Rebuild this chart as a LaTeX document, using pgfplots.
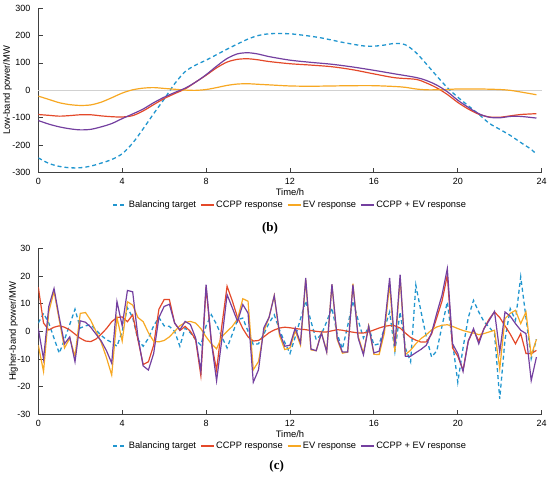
\documentclass[border=0pt]{standalone}
\usepackage{pgfplots}
\pgfplotsset{compat=1.18}
\usepackage{pgfplotstable}
\usepackage{fontspec}
\setmainfont{Liberation Sans}
\newfontfamily\capfont{Liberation Serif}
\definecolor{cTarget}{HTML}{2196CF}
\definecolor{cCCPP}{HTML}{E4492A}
\definecolor{cEV}{HTML}{F7A823}
\definecolor{cSum}{HTML}{7440A0}
\definecolor{cAxis}{HTML}{404040}

\pgfplotstableread{
t v
0 -246
0.5 -266
1 -277
1.5 -282
2 -282
2.5 -276
3 -265
3.5 -252
4 -231
4.5 -192
5 -140
5.5 -85
6 -32
6.5 24
7 68
7.5 92
8 110
8.5 130
9 150
9.5 169
10 187
10.5 200
11 206
11.5 207
12 206
12.5 202
13 197
13.5 191
14 183
14.5 175
15 168
15.5 162
16 161
16.5 165
17 171
17.5 166
18 138
18.5 96
19 52
19.5 10
20 -25
20.5 -56
21 -87
21.5 -120
22 -142
22.5 -164
23 -190
23.5 -215
23.75 -233
}\lowTarget

\pgfplotstableread{
t v
0 -88
0.5 -91
1 -94
1.5 -92
2 -89
2.5 -89
3 -93
3.5 -96
4 -97
4.5 -92
5 -75
5.5 -52
6 -30
6.5 -12
7 5
7.5 30
8 55
8.5 82
9 103
9.5 113
10 115
10.5 111
11 105
12 97
13 92
14 86
15 75
16 60
17 46
18 40
18.5 27
19 9
19.5 -15
20 -44
20.5 -68
21 -87
21.5 -97
22 -98
22.5 -93
23 -88
23.75 -85
}\lowCCPP

\pgfplotstableread{
t v
0 -21
0.5 -33
1 -45
1.5 -52
2 -55
2.5 -53
3 -43
3.5 -27
4 -10
4.5 2
5 8
5.5 10
6 7
6.5 4
7 1
7.5 0
8 3
8.5 10
9 18
9.5 23
10 24
10.5 22
11 20
12 16
13 15
14 16
15 17
16 17
17 14
17.5 11
18 5
18.5 2
19 2
19.5 3
20 5
21 5
22 3
22.5 0
23 -6
23.75 -16
}\lowEV

\pgfplotstableread{
t v
0 -110
0.5 -123
1 -133
1.5 -140
2 -144
2.5 -142
3 -133
3.5 -121
4 -103
4.5 -86
5 -68
5.5 -45
6 -25
6.5 -8
7 8
7.5 30
8 57
8.5 88
9 116
9.5 133
10 137
10.5 132
11 123
12 110
13 102
14 95
15 85
16 73
17 60
18 47
18.5 36
19 19
19.5 -5
20 -36
20.5 -62
21 -85
21.5 -98
22 -100
22.5 -95
23 -95
23.75 -101
}\lowSum

\pgfplotstableread{
t target ccpp ev sum
0.00 3 16 -5 1
0.25 6.5 3 -14.5 -10
0.50 3 0.5 7 9
0.75 -2.5 1.5 14.5 15.5
1.00 -7.9 2 4 5
1.25 -3 1.5 -6 -4.5
1.50 2.5 0.5 -2.5 -2
1.75 8 -1 -9 -11
2.00 1.2 -2.5 6.5 3.8
2.25 2 -3.5 6.8 3.3
2.50 2.4 -3.7 4 1.5
2.75 0.5 -2.8 0 -1
3.00 -1.5 -1 -4 -3.5
3.25 -3 1 -9.5 -7
3.50 -4 3.5 -15.8 -11.5
3.75 -5.4 5 5 10.8
4.00 0 5.2 -3.5 2
4.25 8.5 3.5 10.7 14.8
4.50 5 6 9.5 14.3
4.75 -3 -3 5 -2
5.00 -5.4 -12 3.5 -12.5
5.25 -2.5 -11 -0.5 -14
5.50 2 -5 -3.6 -8
5.75 5 8 -3.8 5
6.00 2 11.5 -3.3 9
6.25 1.8 11.5 -2 9.8
6.50 0 3 0 3
6.75 -5.4 0.3 2 0.5
7.00 1.2 1.8 3.2 3.6
7.25 -0.5 0 3.6 2.5
7.50 -3 -3 3 -2.4
7.75 -5 -16 1 -14.5
8.00 2 16 -2 16.9
8.25 6 -4 -4.5 -3.6
8.50 2.5 -14 -6.3 -17.9
8.75 -2 2 -2 -3
9.00 -6 16.3 0 13.3
9.25 -1 11 1.8 8.5
9.50 4.2 5 4.5 3.6
9.75 4.8 1 11.8 9.7
10.00 0 -2 10.9 6.6
10.25 -4.8 -3.5 -13.9 -18.4
10.50 -4.5 -3.3 -10.9 -13.9
10.75 -1 -2 0 1.2
11.00 3 -0.5 5 5
11.25 6 0.5 12.9 12.9
11.50 0.5 1.2 -1.5 -0.5
11.75 -4 1.5 -6.6 -5.4
12.00 -8 1.3 -6 -5
12.25 -2 1 0.2 1.2
12.50 4.5 0.8 -5 -4.2
12.75 11 0.6 18.7 19.3
13.00 3.6 0.3 -6.7 -6.4
13.25 -3 0 -7 -7
13.50 -1 -0.2 -0.4 -0.6
13.75 3.5 -0.2 -7.3 -7.5
14.00 8.5 0.2 16.9 17.1
14.25 -1 0.6 -3 -2.4
14.50 -6.3 0.4 -7.9 -7.5
14.75 2 0 -7.5 -7.5
15.00 11 -0.3 17.2 16.9
15.25 4 -0.6 -1.8 -2.4
15.50 -2.4 -0.6 -7.9 -8.5
15.75 1.8 -0.2 2 1.8
16.00 -5 0.5 -8.3 -7.8
16.25 -4.5 1.2 -8.4 -7.2
16.50 1 1.8 -0.6 1.2
16.75 7 2.1 17.2 19.3
17.00 -7.3 2 -7.4 -5.4
17.25 7 1.2 19.3 20.5
17.50 -6 -0.6 -8.4 -9
17.75 -11 -2.2 -6.8 -9
18.00 16.7 -3.2 -4.5 -7.7
18.25 7 -3.9 -2.6 -6.5
18.50 -2 -3.8 -1.2 -5
18.75 -9.3 -1 0.5 -0.5
19.00 -7 5 1.6 6.6
19.25 2 11 2.2 13.2
19.50 10.6 20.3 2.4 22.7
19.75 -4 -6 1.8 -4.5
20.00 -18.4 -9 1 -8
20.25 -6 -14 0.3 -14.5
20.50 5 -3.5 -0.2 -3.5
20.75 11.2 0.5 -0.6 1
21.00 7 -3.5 -1.2 -4.5
21.25 3.5 1 -0.8 1
21.50 1.5 4.5 -0.2 4
21.75 -0.8 7 0.4 7.2
22.00 -24.4 5 -13.5 -7.5
22.25 -3 2 4.6 7
22.50 8.2 -1 6.5 5.5
22.75 4 -4.5 7.6 2.8
23.00 19.7 -0.8 2.8 0.4
23.25 5 -8 7 -0.8
23.50 -9.9 -8 -8.7 -17.8
23.75 -2.9 -6.9 -2.9 -9.3
}\highband

\pgfplotsset{
  mystyle/.style={
    scale only axis, width=503.4pt,
    xmin=0, xmax=24, xtick={0,4,...,24},
    axis lines*=left,
    tick align=inside,
    major tick length=4.5pt,
    axis line style={line width=0.8pt, color=cAxis},
    every tick/.style={line width=0.8pt, color=cAxis},
    /pgf/number format/assume math mode=true,
    tick label style={font=\fontsize{9}{10}\selectfont},
    label style={font=\fontsize{9.4}{11}\selectfont},
    xticklabel style={yshift=-2.3pt},
    yticklabel style={xshift=-4.3pt},
    x label style={at={(axis description cs:0.5,0)},anchor=center,yshift=-19.5pt},
    legend style={draw=none, fill=none, legend columns=4,
      font=\fontsize{9.3}{11}\selectfont,
      /tikz/every even column/.append style={column sep=3pt},
      nodes={inner sep=1.2pt}},
    legend image code/.code={\draw[##1] (0pt,0pt) -- (13.5pt,0pt);},
    every axis plot/.append style={line width=1.2pt},
    tgt/.style={color=cTarget, dash pattern=on 4pt off 3pt, line width=1.3pt},
  }
}

\begin{document}
\begin{tikzpicture}
\path[use as bounding box] (0,0) rectangle (550pt,477pt);

\begin{axis}[mystyle,
  at={(38.3pt,304.3pt)}, anchor=south west,
  height=164.7pt,
  ymin=-300, ymax=300, ytick={-300,-200,...,300},
  extra y ticks={0}, extra y tick labels={},
  extra y tick style={ymajorgrids=true, major tick length=0pt,
    major grid style={black!18, line width=0.5pt}},
  xlabel={Time/h},
  ylabel={Low-band power/MW},
  y label style={at={(axis description cs:-0.0612,0.5)}, anchor=center},
  legend style={at={(0.5,0)}, anchor=center, yshift=-32.3pt},
]
\addplot[tgt, smooth] table[x=t,y=v] {\lowTarget};
\addlegendentry{Balancing target}
\addplot[cCCPP, smooth] table[x=t,y=v] {\lowCCPP};
\addlegendentry{CCPP response}
\addplot[cEV, smooth] table[x=t,y=v] {\lowEV};
\addlegendentry{EV response}
\addplot[cSum, smooth] table[x=t,y=v] {\lowSum};
\addlegendentry{CCPP + EV response}
\end{axis}

\begin{axis}[mystyle,
  at={(38.3pt,62.7pt)}, anchor=south west,
  height=165.9pt,
  ymin=-30, ymax=30, ytick={-30,-20,...,30},
  xlabel={Time/h},
  ylabel={Higher-band power/MW},
  y label style={at={(axis description cs:-0.0493,0.5)}, anchor=center},
  legend style={at={(0.5,0)}, anchor=center, yshift=-31.7pt},
]
\addplot[tgt] table[x=t,y=target] {\highband};
\addlegendentry{Balancing target}
\addplot[cCCPP] table[x=t,y=ccpp] {\highband};
\addlegendentry{CCPP response}
\addplot[cEV] table[x=t,y=ev] {\highband};
\addlegendentry{EV response}
\addplot[cSum] table[x=t,y=sum] {\highband};
\addlegendentry{CCPP + EV response}
\end{axis}

\node[font=\capfont\bfseries\fontsize{13}{15}\selectfont] at (270pt,248.7pt) {(b)};
\node[font=\capfont\bfseries\fontsize{13}{15}\selectfont] at (276.7pt,10.3pt) {(c)};
\end{tikzpicture}
\end{document}
